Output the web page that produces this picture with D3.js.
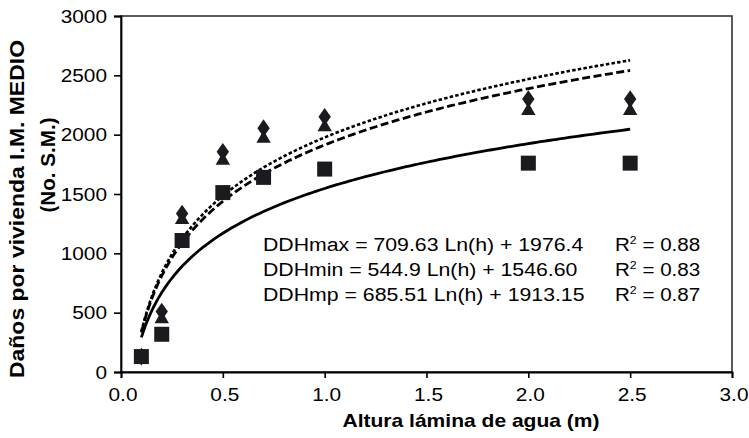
<!DOCTYPE html>
<html>
<head>
<meta charset="utf-8">
<script src="https://cdn.jsdelivr.net/npm/d3@7/dist/d3.min.js"></script>
<style>
  html, body { margin: 0; padding: 0; background: #fff; }
  svg { display: block; }
  text { font-family: "Liberation Sans", Arial, sans-serif; fill: #000; }
</style>
</head>
<body>
<svg id="chart" width="749" height="438"></svg>
<script>
// ---- data ----
const heights = [0.1, 0.2, 0.3, 0.5, 0.7, 1.0, 2.0, 2.5];
const ddhMax = [130, 510, 1335, 1855, 2055, 2150, 2300, 2300];   // diamonds
const ddhMp  = [130, 455, 1290, 1790, 1975, 2072, 2210, 2210];   // triangles
const ddhMin = [130, 318, 1108, 1512, 1640, 1710, 1760, 1760];   // squares
const xTicks = [0, 0.5, 1.0, 1.5, 2.0, 2.5, 3.0];
const yTicks = [0, 500, 1000, 1500, 2000, 2500, 3000];
// trendline coefficients as printed: y = a*Ln(h) + b
const trendNames = ["max", "min", "mp"];
const trendA = [709.63, 544.9, 685.51];
const trendB = [1976.4, 1546.60, 1913.15];
const eqLabels = [
  "DDHmax = 709.63 Ln(h) + 1976.4",
  "DDHmin = 544.9 Ln(h) + 1546.60",
  "DDHmp = 685.51 Ln(h) + 1913.15"
];
const r2Labels = ["0.88", "0.83", "0.87"];

// ---- layout ----
const svg = d3.select("#chart");
const x = d3.scaleLinear().domain([0, 3]).range([121, 732]);
const y = d3.scaleLinear().domain([0, 3000]).range([372, 16]);
const SX = 1.12;      // horizontal stretch of text in the reference
const FS = 18.6;

// plot frame (top/right)
svg.append("rect")
  .attr("x", x(0)).attr("y", y(3000))
  .attr("width", x(3) - x(0)).attr("height", y(0) - y(3000))
  .attr("fill", "none").attr("stroke", "#333").attr("stroke-width", 1.6);

// axes
const xAxis = svg.append("g").attr("transform", `translate(0,${y(0)})`)
  .call(d3.axisBottom(x).tickValues(xTicks).tickSize(6).tickFormat(""));
const yAxis = svg.append("g").attr("transform", `translate(${x(0)},0)`)
  .call(d3.axisLeft(y).tickValues(yTicks).tickSize(7).tickFormat(""));
[xAxis, yAxis].forEach(g => {
  g.selectAll("path").attr("stroke", "#000").attr("stroke-width", 1.8);
  g.selectAll("line").attr("stroke", "#000").attr("stroke-width", 1.6);
});

function stretchedText(parent, tx, ty, str, anchor, weight, size) {
  return parent.append("text")
    .attr("transform", `translate(${tx},${ty}) scale(${SX},1)`)
    .attr("text-anchor", anchor)
    .attr("font-size", size || FS)
    .attr("font-weight", weight || "normal")
    .text(str);
}

// tick labels
xTicks.forEach(t => stretchedText(svg, x(t) + 2, 401, d3.format(".1f")(t), "middle"));
yTicks.forEach(t => stretchedText(svg, 107, y(t) + 6.7, String(t), "end"));

// axis titles
stretchedText(svg, 471, 427, "Altura lámina de agua (m)", "middle", "bold", 18.8);
svg.append("text")
  .attr("transform", "translate(24,209) rotate(-90)")
  .attr("text-anchor", "middle").attr("font-weight", "bold").attr("font-size", 20)
  .attr("textLength", 338).attr("lengthAdjust", "spacingAndGlyphs")
  .text("Daños por vivienda I.M. MEDIO");
svg.append("text")
  .attr("transform", "translate(55,165) rotate(-90)")
  .attr("text-anchor", "middle").attr("font-weight", "bold").attr("font-size", 20)
  .attr("textLength", 95).attr("lengthAdjust", "spacingAndGlyphs")
  .text("(No. S.M.)");

// trendlines
const hGrid = d3.range(0.1, 2.5001, 0.02);
const dashes = { max: "3.5,2.2", min: null, mp: "8,3.5" };
const widths = { max: 2.6, min: 2.8, mp: 2.8 };
const line = d3.line().x(d => x(d[0])).y(d => y(d[1])).curve(d3.curveLinear);
trendNames.forEach((n, i) => {
  const pts = hGrid.map(h => [h, trendA[i] * Math.log(h) + trendB[i]]);
  svg.append("path").datum(pts).attr("d", line)
    .attr("fill", "none").attr("stroke", "#000")
    .attr("stroke-width", widths[n])
    .attr("stroke-dasharray", dashes[n]);
});

// markers
const mColor = "#1c1a1f";
svg.append("g").selectAll("path").data(heights.map((h, i) => [h, ddhMax[i]]))
  .join("path")
  .attr("d", d3.symbol(d3.symbolDiamond, 100))
  .attr("transform", d => `translate(${x(d[0])},${y(d[1])}) scale(1.15,0.95)`)
  .attr("fill", mColor);
svg.append("g").selectAll("path").data(heights.map((h, i) => [h, ddhMp[i]]))
  .join("path")
  .attr("d", d3.symbol(d3.symbolTriangle, 90))
  .attr("transform", d => `translate(${x(d[0])},${y(d[1]) + 1})`)
  .attr("fill", mColor);
svg.append("g").selectAll("rect").data(heights.map((h, i) => [h, ddhMin[i]]))
  .join("rect")
  .attr("x", d => x(d[0]) - 7.5).attr("y", d => y(d[1]) - 7.5)
  .attr("width", 15).attr("height", 15)
  .attr("fill", mColor);

// equations
const eqG = svg.append("g");
eqLabels.forEach((s, i) => {
  stretchedText(eqG, 263, 250.7 + i * 25, s, "start", "normal", 19);
  const t = eqG.append("text")
    .attr("transform", `translate(615,${250.7 + i * 25}) scale(${SX},1)`)
    .attr("font-size", 18.4);
  t.append("tspan").text("R");
  t.append("tspan").attr("font-size", 11).attr("dy", -7).text("2");
  t.append("tspan").attr("dy", 7).text(" = " + r2Labels[i]);
});
</script>
</body>
</html>
